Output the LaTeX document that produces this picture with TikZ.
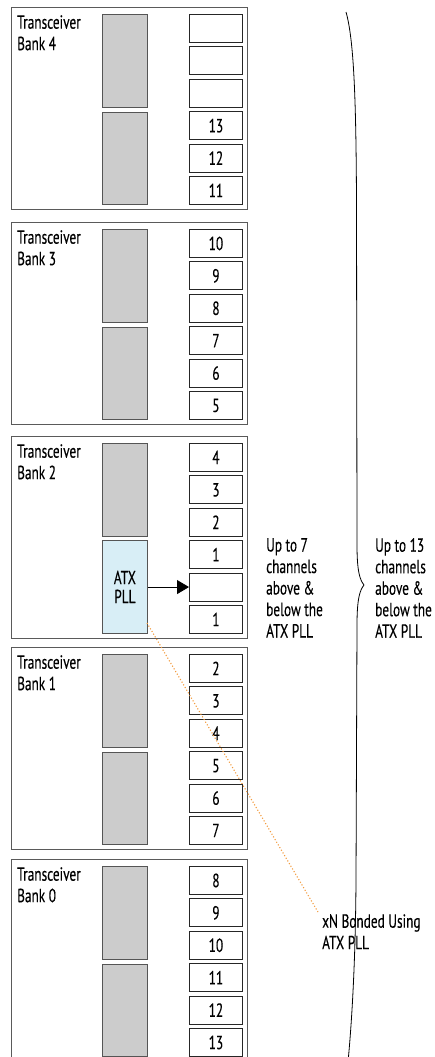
\documentclass[tikz,border=0pt]{standalone}
\usepackage{fontspec}
\setmainfont[FakeStretch=0.7,FakeBold=0.25]{PT Sans}
\usetikzlibrary{arrows.meta}
\definecolor{bankline}{HTML}{5A5A5A}
\definecolor{grayfill}{HTML}{CCCCCC}
\definecolor{grayline}{HTML}{555555}
\definecolor{atxfill}{HTML}{D8EEF6}
\definecolor{dotorange}{HTML}{F39A3C}
\tikzset{
  bankbox/.style={draw=bankline, line width=0.9pt},
  grayblock/.style={draw=grayline, fill=grayfill, line width=0.8pt},
  atxblock/.style={draw=grayline, fill=atxfill, line width=0.8pt},
  chanbox/.style={draw=black!85, line width=0.9pt, minimum width=53pt, minimum height=28pt, inner sep=0pt, anchor=north west, font=\fontsize{19}{21.5}\selectfont},
  lbl/.style={inner sep=0pt, anchor=north west, align=left, font=\fontsize{19}{21.5}\selectfont},
}
\begin{document}
\begin{tikzpicture}[x=1pt,y=-1pt]
\useasboundingbox (0,0) rectangle (435,1057);
\clip (0,0) rectangle (435,1057);
% banks: tops
\foreach \b/\t in {4/7,3/222,2/436,1/647,0/859}{
  \draw[bankbox] (11,\t) rectangle (247,\t+202);
  \node[lbl] (lbl\b) at (17,\t+8) {Transceiver\\Bank \b};
  \draw[grayblock] (102,\t+7) rectangle (147,\t+100);
}
% lower gray blocks
\foreach \b/\t in {4/7,3/222,1/647,0/859}{
  \draw[grayblock] (102,\t+105) rectangle (147,\t+197);
}
% ATX PLL
\node[atxblock, minimum width=45pt, minimum height=93pt, anchor=north west, inner sep=0pt, align=center, font=\fontsize{19}{19}\selectfont] (atx) at (102,540) {ATX\\PLL};
% channel boxes
\foreach \b/\t/\l in {4/7/{,,,13,12,11},3/222/{10,9,8,7,6,5},2/436/{4,3,2,1,,1},1/647/{2,3,4,5,6,7},0/859/{8,9,10,11,12,13}}{
  \foreach \n [count=\i from 0] in \l {
    \node[chanbox] (c\b-\i) at (189,\t+7+32.4*\i) {\n};
  }
}
% arrow
\draw[line width=0.8pt, -{Triangle[length=12pt,width=14pt]}] (atx.east |- c2-4.west) -- (c2-4.west);
% dotted line
\coordinate (dotend) at (318,912);
\draw[dotorange, line width=1.1pt, dotted] (147,623) -- (dotend);
% texts
\node[lbl] (t7) at (266,538) {Up to 7\\channels\\above \&\\below the\\ATX PLL};
\node[lbl] (t13) at (375,538) {Up to 13\\channels\\above \&\\below the\\ATX PLL};
\node[lbl] (xn) at (322,914) {xN Bonded Using\\ATX PLL};
% brace
\draw[line width=0.8pt] (346,12) .. controls (354,40) and (356,100) .. (356.5,200)
  -- (357,545) .. controls (357,572) and (360,580) .. (364,585)
  .. controls (360,590) and (357,598) .. (357,625)
  -- (356,880) .. controls (355.5,960) and (352,1020) .. (348,1062);
\end{tikzpicture}
\end{document}
